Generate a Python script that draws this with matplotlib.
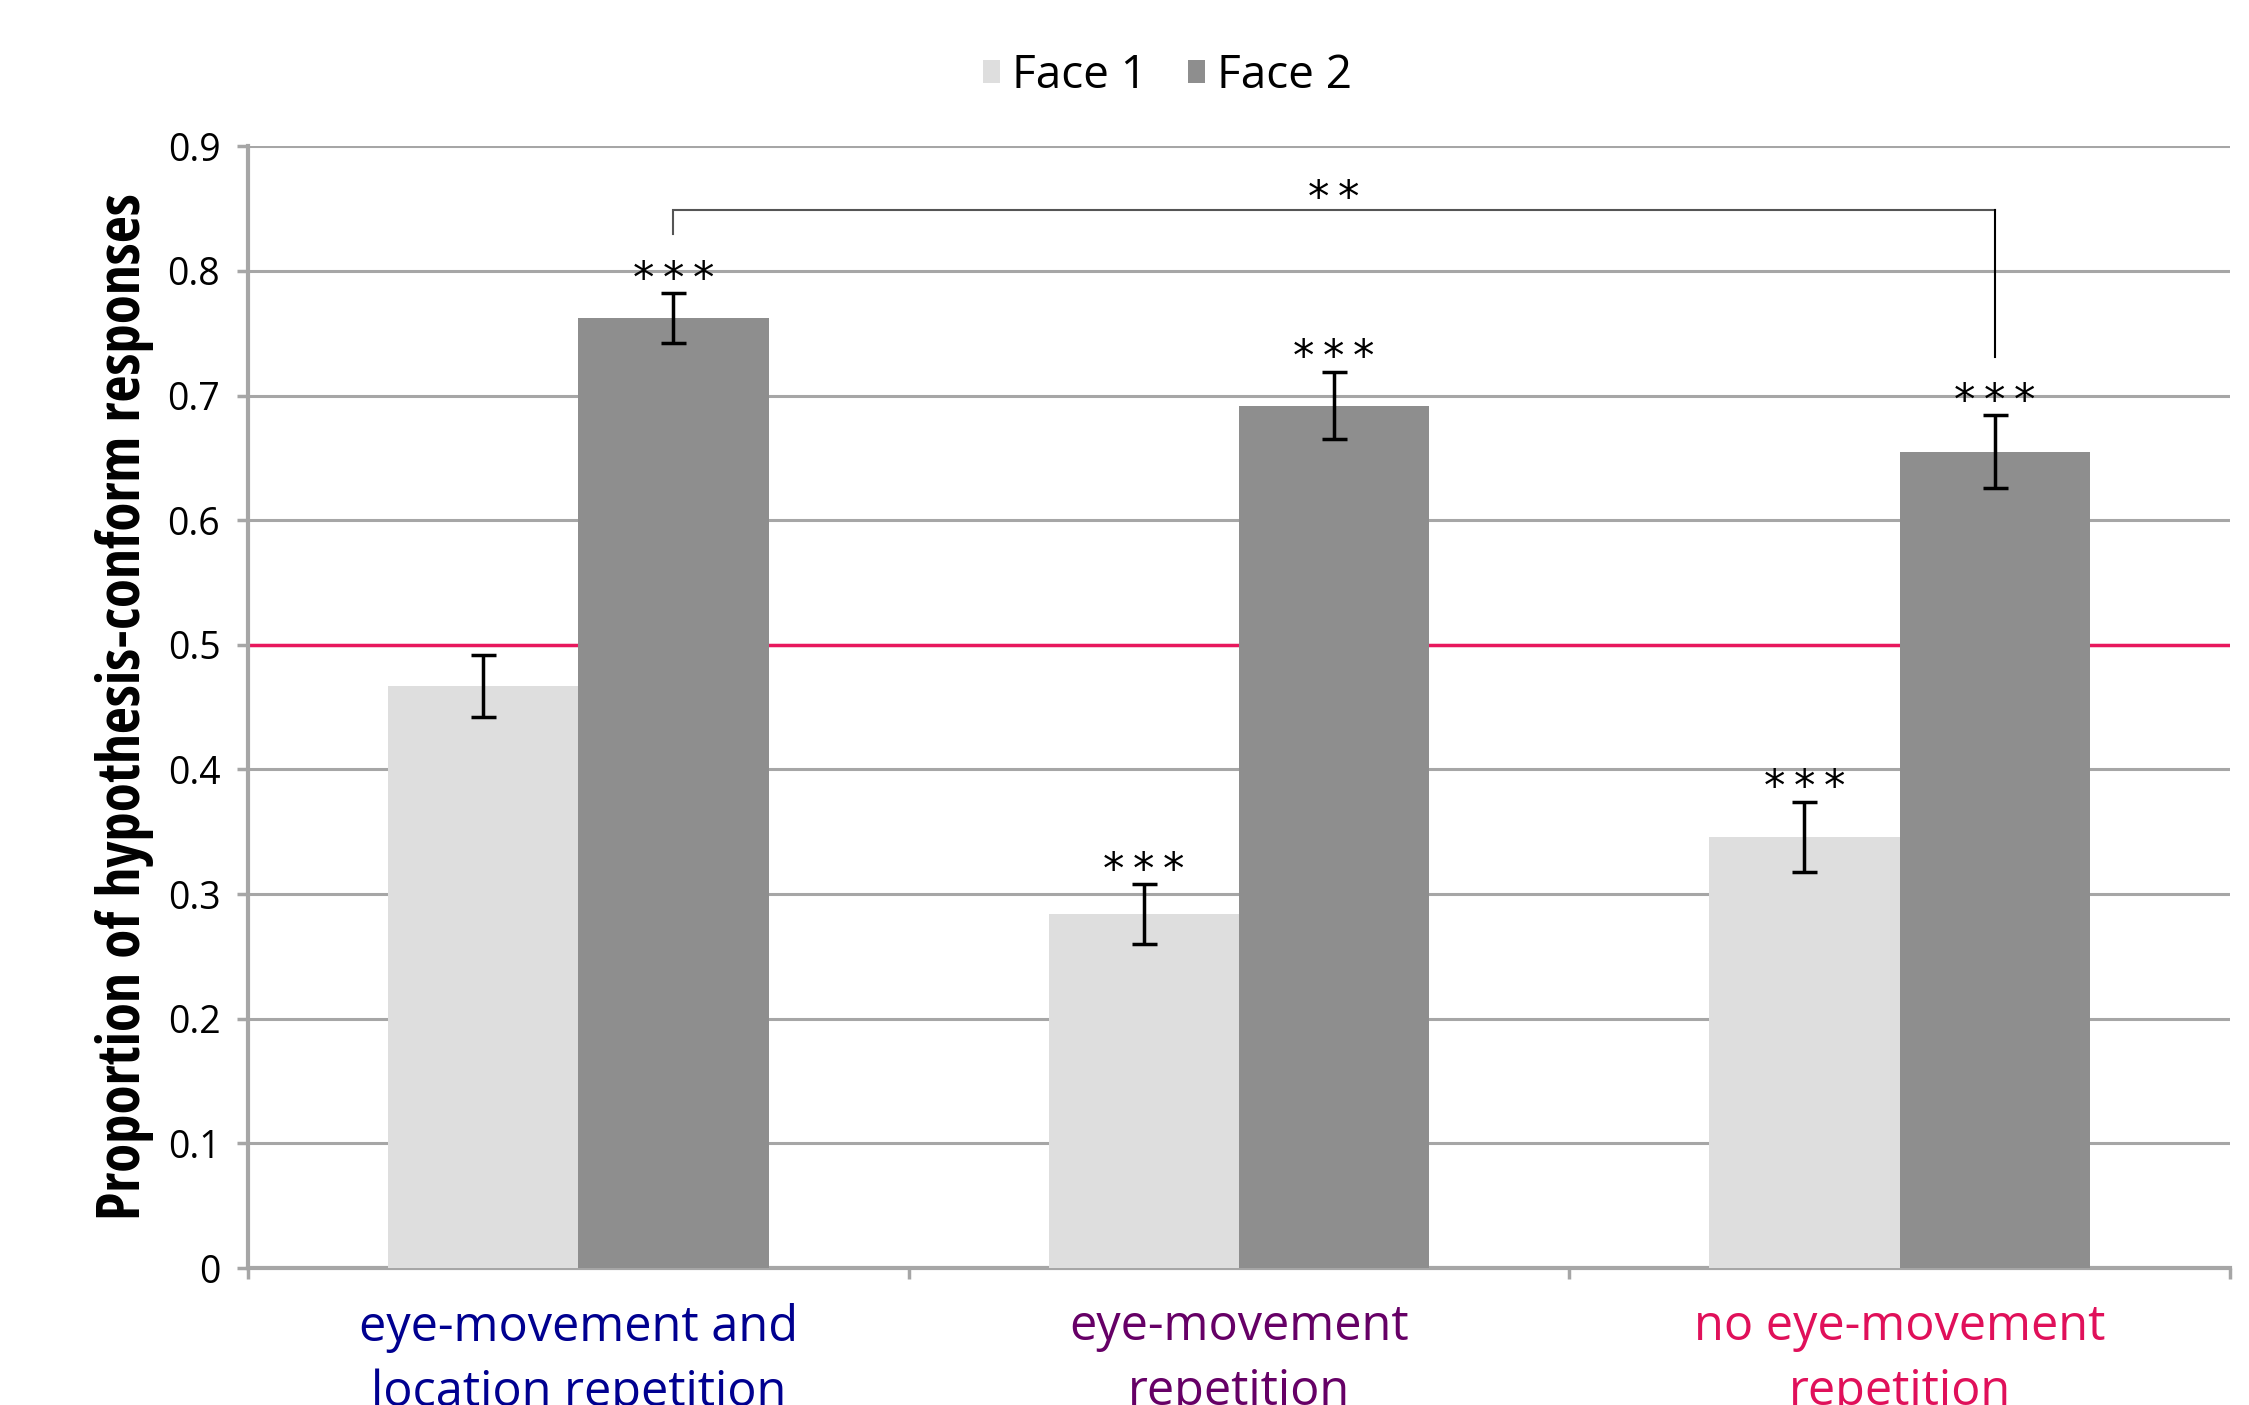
import matplotlib
matplotlib.use("Agg")
import matplotlib.pyplot as plt
import numpy as np
from matplotlib import font_manager as fm

categories = ["eye-movement and\nlocation repetition", "eye-movement\nrepetition", "no eye-movement\nrepetition"]
cat_colors = ["#000090", "#660066", "#E0105A"]
series = ["Face 1", "Face 2"]
face1 = [0.467, 0.284, 0.346]
face2 = [0.762, 0.692, 0.655]
face1_err = [0.025, 0.024, 0.028]
face2_err = [0.020, 0.027, 0.029]
face1_sig = ["", "***", "***"]
face2_sig = ["***", "***", "***"]
bracket_sig = "**"
yticks = [0, 0.1, 0.2, 0.3, 0.4, 0.5, 0.6, 0.7, 0.8, 0.9]
ylabel = "Proportion of hypothesis-conform responses"

names = {f.name for f in fm.fontManager.ttflist}
main_font = "Open Sans" if "Open Sans" in names else "DejaVu Sans"
label_font = None
for cand in ["Liberation Sans Narrow", "Open Sans Condensed", "Roboto Condensed", "DejaVu Sans"]:
    if cand in names:
        label_font = cand
        break

c1, c2 = "#DEDEDE", "#8E8E8E"
grid_c = "#A6A6A6"

fig = plt.figure(figsize=(22.49, 14.05), dpi=100)
ax = fig.add_axes([0.1103, 0.0975, 0.9915 - 0.1103, 0.8959 - 0.0975])

x = np.arange(len(categories))
w = 0.288
ax.bar(x - w / 2, face1, w, color=c1, zorder=3, label=series[0])
ax.bar(x + w / 2, face2, w, color=c2, zorder=3, label=series[1])
ax.errorbar(x - w / 2, face1, yerr=face1_err, fmt="none", ecolor="black", elinewidth=2.5, capsize=9, capthick=2.5, zorder=4)
ax.errorbar(x + w / 2, face2, yerr=face2_err, fmt="none", ecolor="black", elinewidth=2.5, capsize=9, capthick=2.5, zorder=4)

ax.axhline(0.5, color="#E8175D", lw=2.5, zorder=2)

star_kw = dict(ha="center", va="bottom", fontsize=31, family="DejaVu Sans", zorder=5)
for xi, v, e, s in zip(x - w / 2, face1, face1_err, face1_sig):
    if s:
        ax.text(xi, v + e - 0.006, "\u2009".join(s), **star_kw)
for xi, v, e, s in zip(x + w / 2, face2, face2_err, face2_sig):
    if s:
        ax.text(xi, v + e - 0.006, "\u2009".join(s), **star_kw)

# bracket between group 1 and group 3 (Face 2)
bx0, bx1 = x[0] + w / 2, x[2] + w / 2
ytop = 0.849
ax.plot([bx0, bx0, bx1], [face2[0] + face2_err[0] + 0.048, ytop, ytop],
        color="#555555", lw=1.5, zorder=5, solid_joinstyle="miter")
ax.plot([bx1, bx1], [ytop, face2[2] + face2_err[2] + 0.047], color="black", lw=1.5, zorder=6)
ax.text((bx0 + bx1) / 2, ytop - 0.008, "\u2009".join(bracket_sig), **star_kw)

ax.set_xlim(-0.5, 2.5)
ax.set_ylim(0, 0.9)
ax.set_yticks(yticks)
ax.set_yticklabels([f"{t:g}" for t in yticks], fontsize=27, family=main_font)
ax.yaxis.grid(True, color=grid_c, lw=2.2, zorder=0)
ax.set_axisbelow(True)

ax.set_xticks(x)
ax.set_xticklabels(categories, fontsize=35, family=main_font, linespacing=1.42)
for lbl, c in zip(ax.get_xticklabels(), cat_colors):
    lbl.set_color(c)
ax.tick_params(axis="x", length=0, pad=25)
ax.set_xticks([-0.5, 0.5, 1.5, 2.5], minor=True)
ax.tick_params(axis="x", which="minor", length=8, width=2.5, color=grid_c, direction="out")
ax.tick_params(axis="y", length=8, width=2.5, color=grid_c, pad=12)

for s in ["top", "right"]:
    ax.spines[s].set_visible(False)
ax.spines["left"].set_color(grid_c)
ax.spines["left"].set_linewidth(3)
ax.spines["bottom"].set_color(grid_c)
ax.spines["bottom"].set_linewidth(3)

# y label: fit to the reference's length (~1025 px)
yl = fig.text(0.0555, 0.497, ylabel, rotation=90, ha="center", va="center",
              fontsize=40, fontweight="bold", family=label_font, fontstretch="condensed")
fig.canvas.draw()
h = yl.get_window_extent().height
yl.set_fontsize(40 * 1025 / h)

leg = fig.legend(loc="center", bbox_to_anchor=(0.519, 0.946), ncol=2, frameon=False,
                 prop={"family": main_font, "size": 33}, handlelength=0.38, handleheight=0.38,
                 handletextpad=0.25, columnspacing=0.9)

fig.savefig("out.png", dpi=100)
